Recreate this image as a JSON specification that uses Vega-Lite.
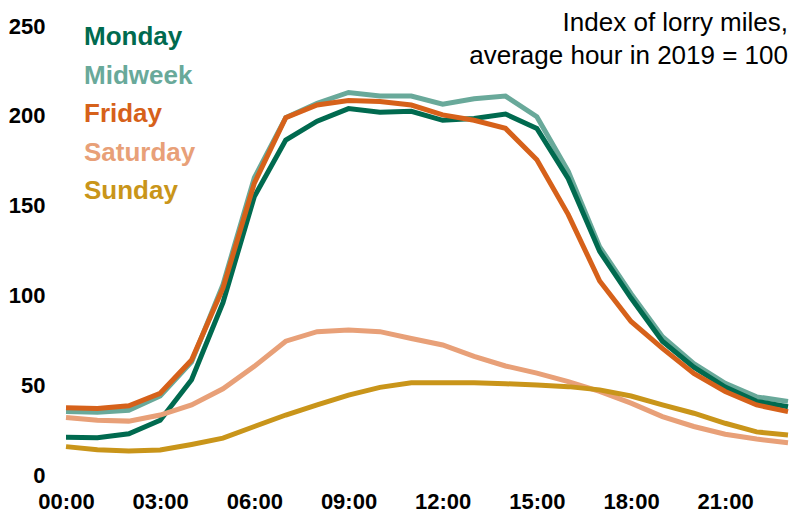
{
  "$schema": "https://vega.github.io/schema/vega-lite/v6.json",
  "width": 722,
  "height": 449,
  "autosize": {"type": "none"},
  "padding": {"left": 66, "top": 26, "right": 7, "bottom": 39},
  "background": "white",
  "config": {"view": {"stroke": null}, "font": "Liberation Sans"},
  "data": {"values": [
    {"day":"Midweek","hour":0,"index":35.3},{"day":"Midweek","hour":1,"index":35},{"day":"Midweek","hour":2,"index":36},{"day":"Midweek","hour":3,"index":44},{"day":"Midweek","hour":4,"index":63},{"day":"Midweek","hour":5,"index":106},{"day":"Midweek","hour":6,"index":165.5},{"day":"Midweek","hour":7,"index":199},{"day":"Midweek","hour":8,"index":207},{"day":"Midweek","hour":9,"index":213},{"day":"Midweek","hour":10,"index":211},{"day":"Midweek","hour":11,"index":211},{"day":"Midweek","hour":12,"index":206.5},{"day":"Midweek","hour":13,"index":209.5},{"day":"Midweek","hour":14,"index":211},{"day":"Midweek","hour":15,"index":199.5},{"day":"Midweek","hour":16,"index":169},{"day":"Midweek","hour":17,"index":127},{"day":"Midweek","hour":18,"index":101},{"day":"Midweek","hour":19,"index":77},{"day":"Midweek","hour":20,"index":62},{"day":"Midweek","hour":21,"index":51},{"day":"Midweek","hour":22,"index":43.5},{"day":"Midweek","hour":23,"index":41},
    {"day":"Monday","hour":0,"index":21},{"day":"Monday","hour":1,"index":20.8},{"day":"Monday","hour":2,"index":23},{"day":"Monday","hour":3,"index":30.5},{"day":"Monday","hour":4,"index":53},{"day":"Monday","hour":5,"index":96},{"day":"Monday","hour":6,"index":155},{"day":"Monday","hour":7,"index":186.5},{"day":"Monday","hour":8,"index":197},{"day":"Monday","hour":9,"index":204},{"day":"Monday","hour":10,"index":202},{"day":"Monday","hour":11,"index":202.5},{"day":"Monday","hour":12,"index":197.5},{"day":"Monday","hour":13,"index":198.5},{"day":"Monday","hour":14,"index":201},{"day":"Monday","hour":15,"index":193},{"day":"Monday","hour":16,"index":165},{"day":"Monday","hour":17,"index":124.5},{"day":"Monday","hour":18,"index":98.5},{"day":"Monday","hour":19,"index":74.5},{"day":"Monday","hour":20,"index":60},{"day":"Monday","hour":21,"index":49},{"day":"Monday","hour":22,"index":41},{"day":"Monday","hour":23,"index":38},
    {"day":"Friday","hour":0,"index":37.5},{"day":"Friday","hour":1,"index":37},{"day":"Friday","hour":2,"index":38.5},{"day":"Friday","hour":3,"index":45.5},{"day":"Friday","hour":4,"index":64},{"day":"Friday","hour":5,"index":104},{"day":"Friday","hour":6,"index":162.5},{"day":"Friday","hour":7,"index":199},{"day":"Friday","hour":8,"index":206},{"day":"Friday","hour":9,"index":208.5},{"day":"Friday","hour":10,"index":208},{"day":"Friday","hour":11,"index":206},{"day":"Friday","hour":12,"index":200.5},{"day":"Friday","hour":13,"index":197.5},{"day":"Friday","hour":14,"index":193},{"day":"Friday","hour":15,"index":175.5},{"day":"Friday","hour":16,"index":145},{"day":"Friday","hour":17,"index":108},{"day":"Friday","hour":18,"index":85.5},{"day":"Friday","hour":19,"index":70.5},{"day":"Friday","hour":20,"index":56.5},{"day":"Friday","hour":21,"index":46.5},{"day":"Friday","hour":22,"index":39},{"day":"Friday","hour":23,"index":35.3},
    {"day":"Saturday","hour":0,"index":32},{"day":"Saturday","hour":1,"index":30.5},{"day":"Saturday","hour":2,"index":30},{"day":"Saturday","hour":3,"index":33.4},{"day":"Saturday","hour":4,"index":39},{"day":"Saturday","hour":5,"index":48},{"day":"Saturday","hour":6,"index":60.5},{"day":"Saturday","hour":7,"index":74.5},{"day":"Saturday","hour":8,"index":79.8},{"day":"Saturday","hour":9,"index":80.8},{"day":"Saturday","hour":10,"index":79.8},{"day":"Saturday","hour":11,"index":76},{"day":"Saturday","hour":12,"index":72.4},{"day":"Saturday","hour":13,"index":66},{"day":"Saturday","hour":14,"index":60.7},{"day":"Saturday","hour":15,"index":56.7},{"day":"Saturday","hour":16,"index":52},{"day":"Saturday","hour":17,"index":46.5},{"day":"Saturday","hour":18,"index":40},{"day":"Saturday","hour":19,"index":32.5},{"day":"Saturday","hour":20,"index":27},{"day":"Saturday","hour":21,"index":22.7},{"day":"Saturday","hour":22,"index":20},{"day":"Saturday","hour":23,"index":18},
    {"day":"Sunday","hour":0,"index":15.8},{"day":"Sunday","hour":1,"index":14},{"day":"Sunday","hour":2,"index":13.4},{"day":"Sunday","hour":3,"index":13.9},{"day":"Sunday","hour":4,"index":17},{"day":"Sunday","hour":5,"index":20.5},{"day":"Sunday","hour":6,"index":27},{"day":"Sunday","hour":7,"index":33.4},{"day":"Sunday","hour":8,"index":39},{"day":"Sunday","hour":9,"index":44.5},{"day":"Sunday","hour":10,"index":48.8},{"day":"Sunday","hour":11,"index":51.4},{"day":"Sunday","hour":12,"index":51.4},{"day":"Sunday","hour":13,"index":51.4},{"day":"Sunday","hour":14,"index":50.8},{"day":"Sunday","hour":15,"index":50.1},{"day":"Sunday","hour":16,"index":49.2},{"day":"Sunday","hour":17,"index":47.4},{"day":"Sunday","hour":18,"index":44},{"day":"Sunday","hour":19,"index":39},{"day":"Sunday","hour":20,"index":34.4},{"day":"Sunday","hour":21,"index":28.8},{"day":"Sunday","hour":22,"index":24},{"day":"Sunday","hour":23,"index":22.3}
  ]},
  "layer": [
    {
      "mark": {"type": "line", "strokeWidth": 5},
      "encoding": {
        "x": {
          "field": "hour", "type": "quantitative",
          "scale": {"domain": [0, 23], "nice": false, "zero": false},
          "axis": {
            "values": [0, 3, 6, 9, 12, 15, 18, 21],
            "labelExpr": "(datum.value < 10 ? '0' : '') + datum.value + ':00'",
            "title": null, "domain": false, "ticks": false, "grid": false,
            "labelFontSize": 22, "labelFontWeight": "bold", "labelColor": "black",
            "labelFont": "Liberation Sans", "labelPadding": 16, "labelFlush": false, "labelOverlap": false
          }
        },
        "y": {
          "field": "index", "type": "quantitative",
          "scale": {"domain": [0, 250], "nice": false},
          "axis": {
            "values": [0, 50, 100, 150, 200, 250],
            "title": null, "domain": false, "ticks": false, "grid": false,
            "labelFontSize": 22, "labelFontWeight": "bold", "labelColor": "black",
            "labelFont": "Liberation Sans", "labelPadding": 21
          }
        },
        "color": {
          "field": "day", "type": "nominal",
          "scale": {
            "domain": ["Monday", "Midweek", "Friday", "Saturday", "Sunday"],
            "range": ["#006A4F", "#69A99A", "#D6611A", "#E8A078", "#C9951A"]
          },
          "legend": {
            "title": null, "orient": "none", "legendX": -8, "legendY": -2,
            "symbolSize": 0, "symbolOpacity": 0, "symbolStrokeWidth": 0,
            "labelFontSize": 26, "labelFontWeight": "bold", "labelFont": "Liberation Sans",
            "labelOffset": 0, "rowPadding": 12.6, "padding": 0, "labelLimit": 300,
            "encode": {"labels": {"update": {"fill": {"scale": "color", "field": "value"}}}}
          }
        }
      }
    },
    {
      "data": {"values": [{"hour": 23, "index": 250}]},
      "mark": {
        "type": "text", "align": "right", "baseline": "alphabetic",
        "fontSize": 26, "lineHeight": 33, "dy": 5, "font": "Liberation Sans", "color": "black",
        "text": ["Index of lorry miles,", "average hour in 2019 = 100"]
      },
      "encoding": {
        "x": {"field": "hour", "type": "quantitative"},
        "y": {"field": "index", "type": "quantitative"}
      }
    }
  ]
}
